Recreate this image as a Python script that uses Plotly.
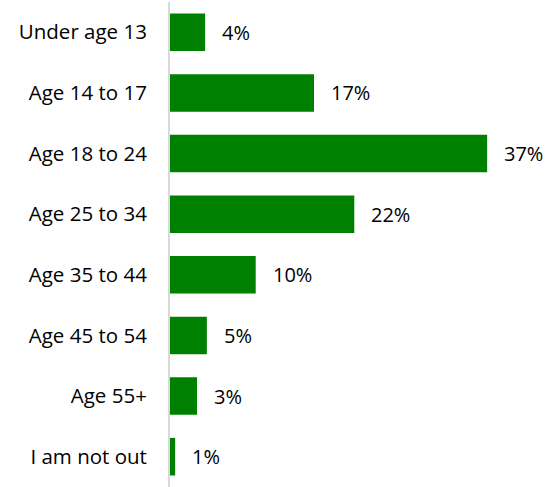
import plotly.graph_objects as go

categories = ["Under age 13", "Age 14 to 17", "Age 18 to 24", "Age 25 to 34",
              "Age 35 to 44", "Age 45 to 54", "Age 55+", "I am not out"]
values = [4.1, 16.8, 37.0, 21.5, 10.0, 4.3, 3.15, 0.6]
labels = ["4%", "17%", "37%", "22%", "10%", "5%", "3%", "1%"]

font_family = "Open Sans, Lato, sans-serif"

fig = go.Figure(go.Bar(
    x=values, y=categories, orientation="h",
    marker=dict(color="#008000", line=dict(width=0)),
    hoverinfo="skip",
))

for c, v, t in zip(categories, values, labels):
    fig.add_annotation(x=v, y=c, text=t, showarrow=False, xanchor="left",
                       xshift=15, font=dict(size=20, color="#000000", family=font_family))

fig.update_layout(
    width=545, height=487,
    margin=dict(l=170, r=0, t=2, b=0),
    plot_bgcolor="white", paper_bgcolor="white",
    bargap=0.38,
    showlegend=False,
    xaxis=dict(range=[0, 43.75], visible=False, fixedrange=True),
    yaxis=dict(autorange="reversed", showline=True, linecolor="#d9d9d9", linewidth=2,
               showgrid=False, zeroline=False, ticks="", ticklabelstandoff=17,
               automargin=False,
               tickfont=dict(size=20.5, color="#000000", family=font_family)),
)

fig.write_html("out.html", config={"displayModeBar": False},
               post_script="document.body.style.margin='0';document.body.style.padding='0';")
